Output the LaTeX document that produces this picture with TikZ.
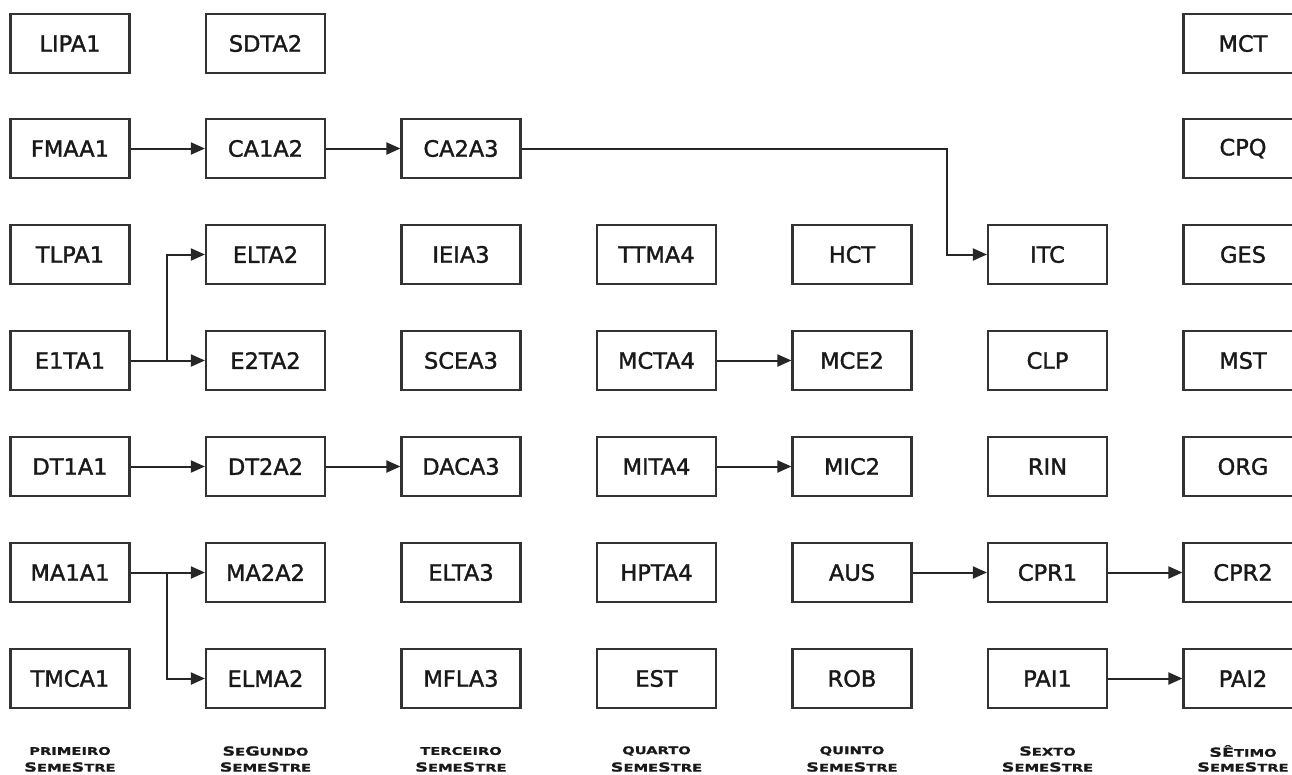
\documentclass[tikz,border=0pt]{standalone}
\usepackage{fontspec}
\setmainfont{DejaVu Sans}
\newfontfamily\boxfont[FakeBold=1.5]{DejaVu Sans}
\newfontfamily\labfont[FakeStretch=1.4, FakeBold=1.2]{DejaVu Sans Bold}
\usetikzlibrary{arrows.meta}
\newcommand\Bg[1]{{\fontsize{12.5}{14}\selectfont #1}}
\newcommand\Sm[1]{{\fontsize{10.5}{14}\selectfont #1}}
\tikzset{
  box/.style={draw=black!80, line width=2.2pt, minimum width=119pt, minimum height=59pt, inner sep=0pt, font=\boxfont\fontsize{22.5}{25}\selectfont, text=black!90},
  conn/.style={draw=black!85, line width=2pt, -{Triangle[length=14pt,width=12pt]}},
  sem/.style={font=\labfont, text=black!90, align=center, inner sep=0pt}
}
\begin{document}
\begin{tikzpicture}[x=1pt,y=-1pt]
\useasboundingbox (0,0) rectangle (1292,774);
\clip (0,0) rectangle (1292,774);
% column x
\def\cA{70}\def\cB{265.5}\def\cC{461}\def\cD{656.5}\def\cE{852}\def\cF{1047.5}\def\cG{1243}
% row y
\def\rA{43.5}\def\rB{148.5}\def\rC{254.5}\def\rD{360.5}\def\rE{466.5}\def\rF{572.5}\def\rG{678.5}
% column 1
\node[box] (lipa1) at (\cA,\rA) {LIPA1};
\node[box] (fmaa1) at (\cA,\rB) {FMAA1};
\node[box] (tlpa1) at (\cA,\rC) {TLPA1};
\node[box] (e1ta1) at (\cA,\rD) {E1TA1};
\node[box] (dt1a1) at (\cA,\rE) {DT1A1};
\node[box] (ma1a1) at (\cA,\rF) {MA1A1};
\node[box] (tmca1) at (\cA,\rG) {TMCA1};
% column 2
\node[box] (sdta2) at (\cB,\rA) {SDTA2};
\node[box] (ca1a2) at (\cB,\rB) {CA1A2};
\node[box] (elta2) at (\cB,\rC) {ELTA2};
\node[box] (e2ta2) at (\cB,\rD) {E2TA2};
\node[box] (dt2a2) at (\cB,\rE) {DT2A2};
\node[box] (ma2a2) at (\cB,\rF) {MA2A2};
\node[box] (elma2) at (\cB,\rG) {ELMA2};
% column 3
\node[box] (ca2a3) at (\cC,\rB) {CA2A3};
\node[box] (ieia3) at (\cC,\rC) {IEIA3};
\node[box] (scea3) at (\cC,\rD) {SCEA3};
\node[box] (daca3) at (\cC,\rE) {DACA3};
\node[box] (elta3) at (\cC,\rF) {ELTA3};
\node[box] (mfla3) at (\cC,\rG) {MFLA3};
% column 4
\node[box] (ttma4) at (\cD,\rC) {TTMA4};
\node[box] (mcta4) at (\cD,\rD) {MCTA4};
\node[box] (mita4) at (\cD,\rE) {MITA4};
\node[box] (hpta4) at (\cD,\rF) {HPTA4};
\node[box] (est) at (\cD,\rG) {EST};
% column 5
\node[box] (hct) at (\cE,\rC) {HCT};
\node[box] (mce2) at (\cE,\rD) {MCE2};
\node[box] (mic2) at (\cE,\rE) {MIC2};
\node[box] (aus) at (\cE,\rF) {AUS};
\node[box] (rob) at (\cE,\rG) {ROB};
% column 6
\node[box] (itc) at (\cF,\rC) {ITC};
\node[box] (clp) at (\cF,\rD) {CLP};
\node[box] (rin) at (\cF,\rE) {RIN};
\node[box] (cpr1) at (\cF,\rF) {CPR1};
\node[box] (pai1) at (\cF,\rG) {PAI1};
% column 7
\node[box] (mct) at (\cG,\rA) {MCT};
\node[box] (cpq) at (\cG,\rB) {CPQ};
\node[box] (ges) at (\cG,\rC) {GES};
\node[box] (mst) at (\cG,\rD) {MST};
\node[box] (org) at (\cG,\rE) {ORG};
\node[box] (cpr2) at (\cG,\rF) {CPR2};
\node[box] (pai2) at (\cG,\rG) {PAI2};
% connectors
\draw[conn] (fmaa1) -- (ca1a2);
\draw[conn] (ca1a2) -- (ca2a3);
\coordinate (bendA) at (947,\rB);
\coordinate (bendB) at (947,\rC);
\draw[conn] (ca2a3.east) -- (bendA) -- (bendB) -- (itc.west);
\coordinate (splitE) at (167,\rD);
\coordinate (upE) at (167,\rC);
\draw[conn] (e1ta1.east) -- (e2ta2.west);
\draw[conn] (splitE) -- (upE) -- (elta2.west);
\draw[conn] (dt1a1) -- (dt2a2);
\draw[conn] (dt2a2) -- (daca3);
\coordinate (splitM) at (167,\rF);
\coordinate (downM) at (167,\rG);
\draw[conn] (ma1a1.east) -- (ma2a2.west);
\draw[conn] (splitM) -- (downM) -- (elma2.west);
\draw[conn] (mcta4) -- (mce2);
\draw[conn] (mita4) -- (mic2);
\draw[conn] (aus) -- (cpr1);
\draw[conn] (cpr1) -- (cpr2);
\draw[conn] (pai1) -- (pai2);
% semester labels
\node[sem] (s1a) at (\cA,751) {\Sm{PRIMEIRO}};
\node[sem] (s1b) at (\cA,767) {\Bg{S}\Sm{EME}\Bg{S}\Sm{TRE}};
\node[sem] (s2a) at (\cB,751) {\Bg{S}\Sm{E}\Bg{G}\Sm{UNDO}};
\node[sem] (s2b) at (\cB,767) {\Bg{S}\Sm{EME}\Bg{S}\Sm{TRE}};
\node[sem] (s3a) at (\cC,751) {\Sm{TERCEIRO}};
\node[sem] (s3b) at (\cC,767) {\Bg{S}\Sm{EME}\Bg{S}\Sm{TRE}};
\node[sem] (s4a) at (\cD,751) {\Sm{QUARTO}};
\node[sem] (s4b) at (\cD,767) {\Bg{S}\Sm{EME}\Bg{S}\Sm{TRE}};
\node[sem] (s5a) at (\cE,751) {\Sm{QUINTO}};
\node[sem] (s5b) at (\cE,767) {\Bg{S}\Sm{EME}\Bg{S}\Sm{TRE}};
\node[sem] (s6a) at (\cF,751) {\Bg{S}\Sm{EXTO}};
\node[sem] (s6b) at (\cF,767) {\Bg{S}\Sm{EME}\Bg{S}\Sm{TRE}};
\node[sem] (s7a) at (\cG,751) {\Bg{S}\Bg{Ê}\Sm{TIMO}};
\node[sem] (s7b) at (\cG,767) {\Bg{S}\Sm{EME}\Bg{S}\Sm{TRE}};
\end{tikzpicture}
\end{document}
